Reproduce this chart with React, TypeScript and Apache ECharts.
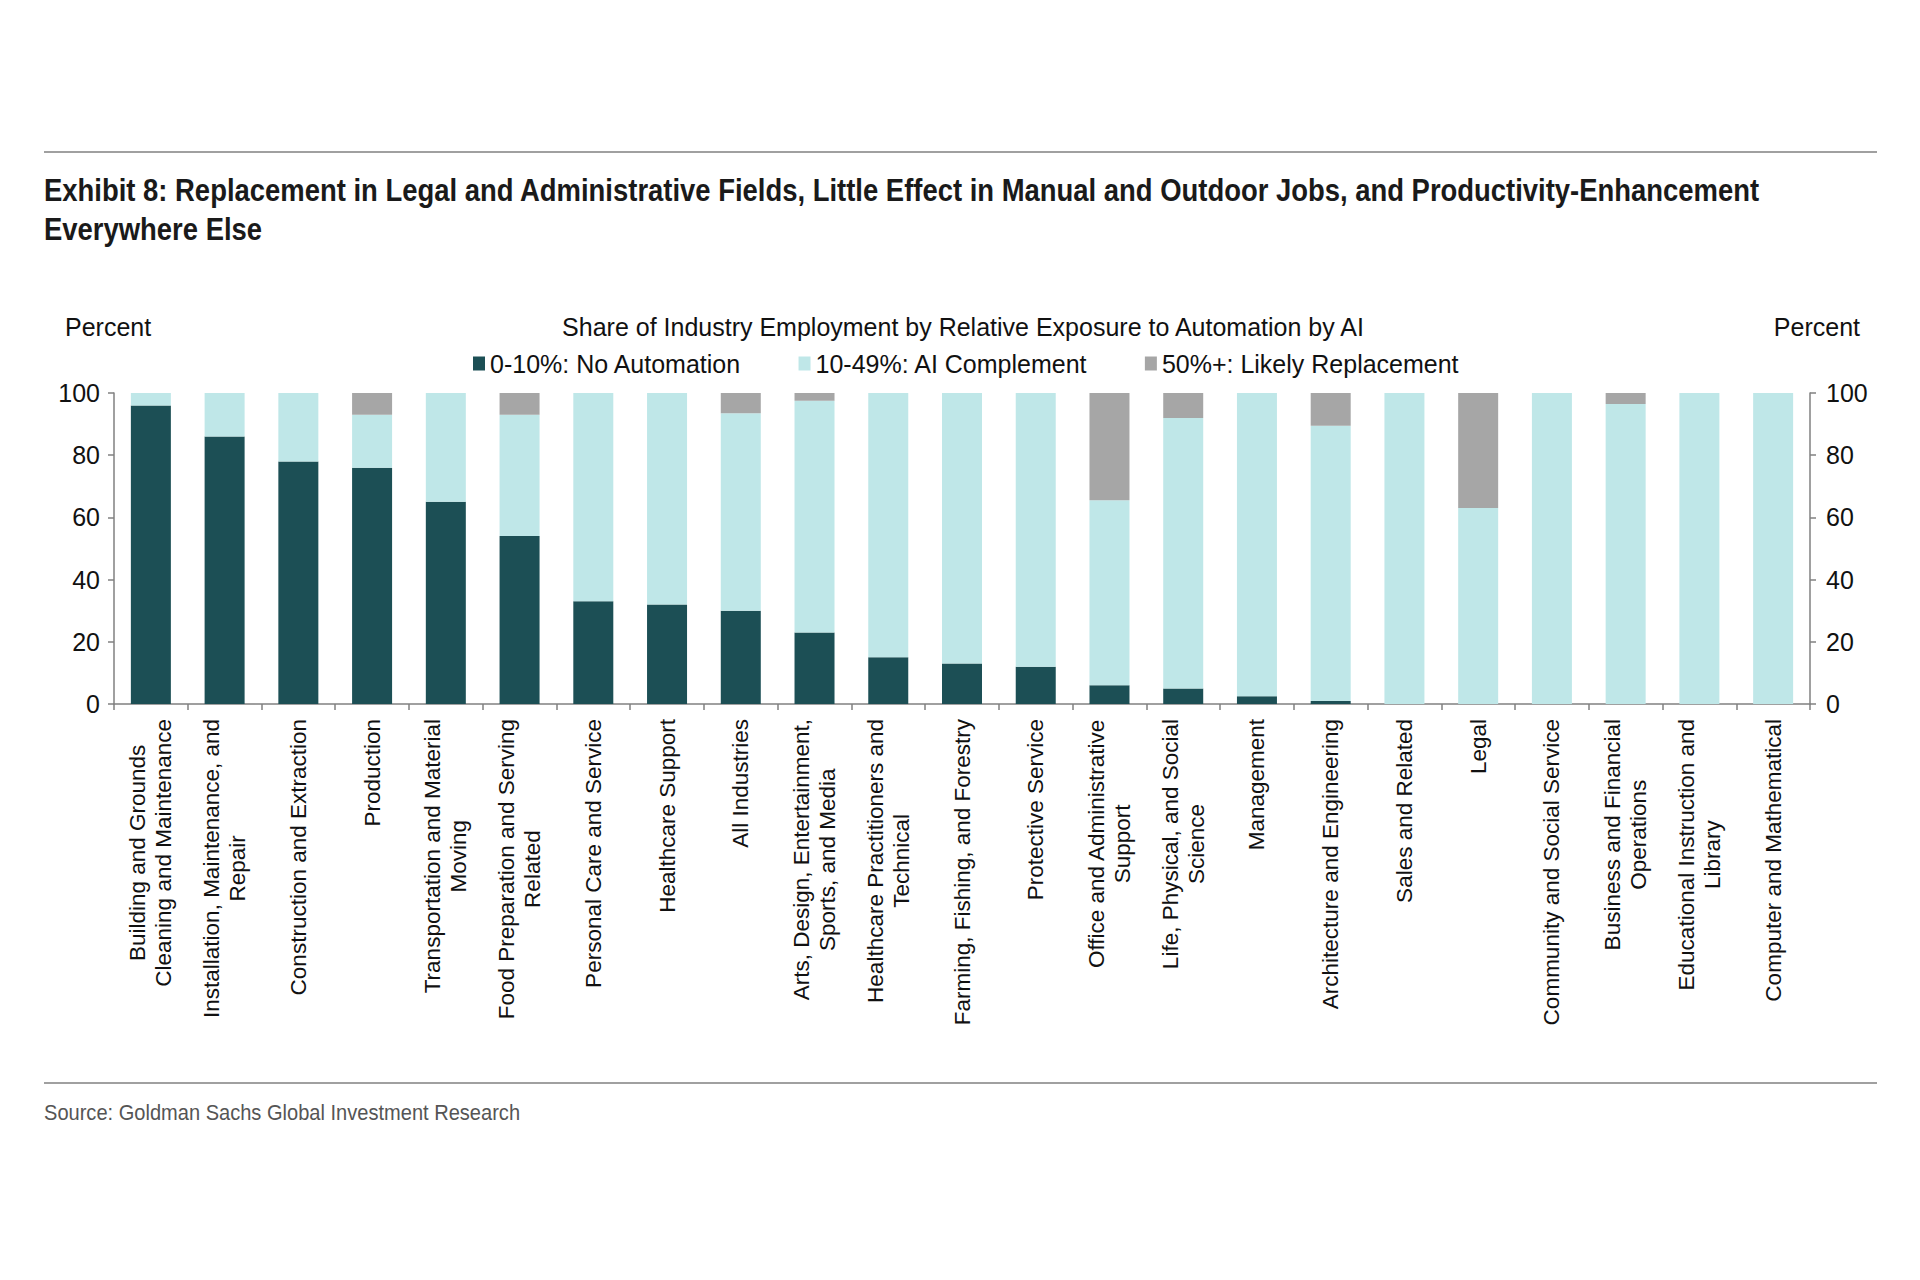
import React, { useEffect, useRef } from 'react';
import * as echarts from 'echarts';

const categories = [
  'Building and Grounds\nCleaning and Maintenance',
  'Installation, Maintenance, and\nRepair',
  'Construction and Extraction',
  'Production',
  'Transportation and Material\nMoving',
  'Food Preparation and Serving\nRelated',
  'Personal Care and Service',
  'Healthcare Support',
  'All Industries',
  'Arts, Design, Entertainment,\nSports, and Media',
  'Healthcare Practitioners and\nTechnical',
  'Farming, Fishing, and Forestry',
  'Protective Service',
  'Office and Administrative\nSupport',
  'Life, Physical, and Social\nScience',
  'Management',
  'Architecture and Engineering',
  'Sales and Related',
  'Legal',
  'Community and Social Service',
  'Business and Financial\nOperations',
  'Educational Instruction and\nLibrary',
  'Computer and Mathematical',
];

const noAutomation = [96, 86, 78, 76, 65, 54, 33, 32, 30, 23, 15, 13, 12, 6, 5, 2.5, 1, 0, 0, 0, 0, 0, 0];
const aiComplement = [4, 14, 22, 17, 35, 39, 67, 68, 63.5, 74.5, 85, 87, 88, 59.5, 87, 97.5, 88.5, 100, 63, 100, 96.5, 100, 100];
const likelyReplacement = [0, 0, 0, 7, 0, 7, 0, 0, 6.5, 2.5, 0, 0, 0, 34.5, 8, 0, 10.5, 0, 37, 0, 3.5, 0, 0];

const seriesNames = ['0-10%: No Automation', '10-49%: AI Complement', '50%+: Likely Replacement'];
const seriesColors = ['#1c4f55', '#bfe7e8', '#a6a6a6'];

const titleLines = [
  'Exhibit 8: Replacement in Legal and Administrative Fields, Little Effect in Manual and Outdoor Jobs, and Productivity-Enhancement',
  'Everywhere Else',
];
const subtitle = 'Share of Industry Employment by Relative Exposure to Automation by AI';
const sourceText = 'Source: Goldman Sachs Global Investment Research';

const FONT = '"Liberation Sans", Arial, sans-serif';

// squeeze a string to a target width (the original uses a condensed face)
function fitScale(text: string, font: string, target: number) {
  const ctx = document.createElement('canvas').getContext('2d');
  if (!ctx) return 1;
  ctx.font = font;
  const w = ctx.measureText(text).width;
  return w > 0 ? target / w : 1;
}

const App: React.FC = () => {
  const chartRef = useRef<HTMLDivElement | null>(null);

  useEffect(() => {
    document.body.style.margin = '0';
    if (!chartRef.current) return;
    const chart = echarts.init(chartRef.current, undefined, { renderer: 'svg' });

    const titleScale = fitScale(titleLines[0], `bold 31px ${FONT}`, 1716);
    const sourceScale = fitScale(sourceText, `22px ${FONT}`, 476);

    const yAxisCommon = {
      type: 'value' as const,
      min: 0,
      max: 100,
      interval: 20,
      axisLine: { show: true, lineStyle: { color: '#808080', width: 1.5 } },
      axisTick: { show: true, length: 6, lineStyle: { color: '#808080', width: 1.5 } },
      splitLine: { show: false },
      axisLabel: { fontFamily: FONT, fontSize: 25, color: '#111', margin: 14 },
    };

    const option = {
      animation: false,
      backgroundColor: '#fff',
      textStyle: { fontFamily: FONT },
      grid: { left: 114, right: 110, top: 393, bottom: 576 },
      legend: {
        left: 473,
        top: 351,
        padding: 0,
        itemWidth: 12,
        itemHeight: 14,
        itemGap: 57,
        icon: 'rect',
        textStyle: { fontFamily: FONT, fontSize: 25, color: '#111' },
        data: seriesNames,
      },
      xAxis: {
        type: 'category',
        data: categories,
        axisLine: { lineStyle: { color: '#808080', width: 1.5 } },
        axisTick: { show: true, length: 6, alignWithLabel: false, lineStyle: { color: '#808080', width: 1.5 } },
        axisLabel: {
          interval: 0,
          rotate: 90,
          margin: 15,
          fontFamily: FONT,
          fontSize: 22.5,
          lineHeight: 26,
          color: '#111',
          formatter: (v: string) =>
            v
              .split('\n')
              .map((l) => `{c|${l}}`)
              .join('\n'),
          rich: { c: { align: 'center', fontFamily: FONT, fontSize: 22.5, lineHeight: 26, color: '#111' } },
        },
      },
      yAxis: [
        { ...yAxisCommon, position: 'left' },
        { ...yAxisCommon, position: 'right', axisLabel: { ...yAxisCommon.axisLabel, margin: 16 } },
      ],
      series: [noAutomation, aiComplement, likelyReplacement].map((d, i) => ({
        name: seriesNames[i],
        type: 'bar',
        stack: 'total',
        barWidth: 40,
        data: d,
        itemStyle: { color: seriesColors[i] },
      })),
      graphic: [
        { type: 'line', shape: { x1: 44, y1: 152, x2: 1877, y2: 152 }, style: { stroke: '#a0a0a0', lineWidth: 2 } },
        ...titleLines.map((t, i) => ({
          type: 'text',
          x: 44,
          y: 190 + i * 39,
          scaleX: titleScale,
          style: { text: t, font: `bold 31px ${FONT}`, fill: '#1a1a1a', verticalAlign: 'middle' },
        })),
        {
          type: 'text',
          x: 65,
          y: 327,
          style: { text: 'Percent', font: `25px ${FONT}`, fill: '#111', verticalAlign: 'middle' },
        },
        {
          type: 'text',
          x: 1860,
          y: 327,
          style: { text: 'Percent', font: `25px ${FONT}`, fill: '#111', align: 'right', verticalAlign: 'middle' },
        },
        {
          type: 'text',
          x: 963,
          y: 327,
          style: { text: subtitle, font: `25px ${FONT}`, fill: '#111', align: 'center', verticalAlign: 'middle' },
        },
        { type: 'line', shape: { x1: 44, y1: 1083, x2: 1877, y2: 1083 }, style: { stroke: '#a0a0a0', lineWidth: 2 } },
        {
          type: 'text',
          x: 44,
          y: 1112,
          scaleX: sourceScale,
          style: { text: sourceText, font: `22px ${FONT}`, fill: '#555', verticalAlign: 'middle' },
        },
      ],
    };

    chart.setOption(option);
    return () => {
      chart.dispose();
    };
  }, []);

  return <div ref={chartRef} style={{ width: '1920px', height: '1280px' }} />;
};

export default App;
